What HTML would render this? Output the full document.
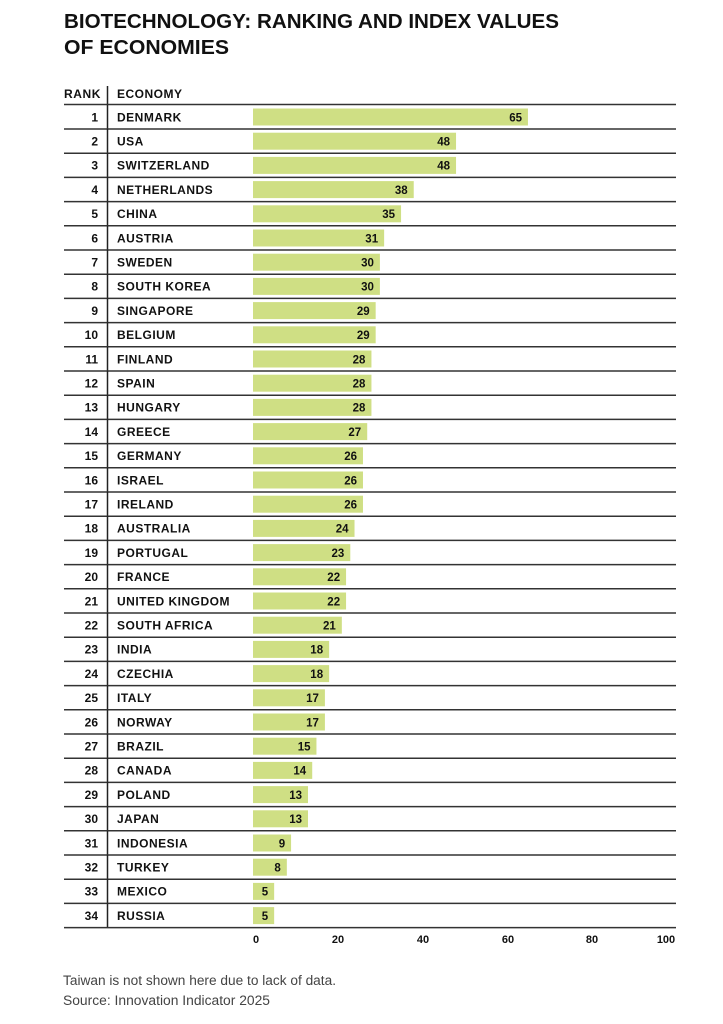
<!DOCTYPE html>
<html><head><meta charset="utf-8"><style>
html,body{margin:0;padding:0;background:#fff;}
svg{display:block;}
rect{fill:#cfdf84;}
.v{font-size:11.5px;font-weight:bold;fill:#111;text-anchor:end;}
.r{font-size:12px;font-weight:bold;fill:#111;text-anchor:end;}
.n{font-size:12px;font-weight:bold;fill:#111;letter-spacing:0.5px;}
.d{stroke:#222;stroke-width:1.5;}
.s{stroke:#333;stroke-width:1.5;}
</style></head><body>
<svg width="723" height="1024" xmlns="http://www.w3.org/2000/svg" font-family="Liberation Sans, sans-serif">
<text x="64" y="28" font-size="20" font-weight="bold" fill="#111" textLength="495" lengthAdjust="spacingAndGlyphs">BIOTECHNOLOGY: RANKING AND INDEX VALUES</text>
<text x="64" y="54" font-size="20" font-weight="bold" fill="#111" textLength="165" lengthAdjust="spacingAndGlyphs">OF ECONOMIES</text>
<text x="64" y="98" font-size="12" font-weight="bold" fill="#111" letter-spacing="0.6">RANK</text>
<text x="117" y="98" font-size="12" font-weight="bold" fill="#111" letter-spacing="0.5">ECONOMY</text>
<line class="d" x1="107.5" y1="86" x2="107.5" y2="104.5"/>
<line class="s" x1="64" y1="104.5" x2="676" y2="104.5"/>

<g transform="translate(0,129)"><rect x="253" y="-20.5" width="274.95" height="17"/><text class="v" x="522" y="-7.7">65</text><text class="r" x="98" y="-7.7">1</text><text class="n" x="117" y="-7.7">DENMARK</text><line class="d" x1="107.5" y1="-24.2" x2="107.5" y2="0"/><line class="s" x1="64" y1="0" x2="676" y2="0"/></g>
<g transform="translate(0,153.2)"><rect x="253" y="-20.5" width="203.04" height="17"/><text class="v" x="450" y="-7.7">48</text><text class="r" x="98" y="-7.7">2</text><text class="n" x="117" y="-7.7">USA</text><line class="d" x1="107.5" y1="-24.2" x2="107.5" y2="0"/><line class="s" x1="64" y1="0" x2="676" y2="0"/></g>
<g transform="translate(0,177.4)"><rect x="253" y="-20.5" width="203.04" height="17"/><text class="v" x="450" y="-7.7">48</text><text class="r" x="98" y="-7.7">3</text><text class="n" x="117" y="-7.7">SWITZERLAND</text><line class="d" x1="107.5" y1="-24.2" x2="107.5" y2="0"/><line class="s" x1="64" y1="0" x2="676" y2="0"/></g>
<g transform="translate(0,201.6)"><rect x="253" y="-20.5" width="160.74" height="17"/><text class="v" x="407.7" y="-7.7">38</text><text class="r" x="98" y="-7.7">4</text><text class="n" x="117" y="-7.7">NETHERLANDS</text><line class="d" x1="107.5" y1="-24.2" x2="107.5" y2="0"/><line class="s" x1="64" y1="0" x2="676" y2="0"/></g>
<g transform="translate(0,225.8)"><rect x="253" y="-20.5" width="148.05" height="17"/><text class="v" x="395" y="-7.7">35</text><text class="r" x="98" y="-7.7">5</text><text class="n" x="117" y="-7.7">CHINA</text><line class="d" x1="107.5" y1="-24.2" x2="107.5" y2="0"/><line class="s" x1="64" y1="0" x2="676" y2="0"/></g>
<g transform="translate(0,250)"><rect x="253" y="-20.5" width="131.13" height="17"/><text class="v" x="378.1" y="-7.7">31</text><text class="r" x="98" y="-7.7">6</text><text class="n" x="117" y="-7.7">AUSTRIA</text><line class="d" x1="107.5" y1="-24.2" x2="107.5" y2="0"/><line class="s" x1="64" y1="0" x2="676" y2="0"/></g>
<g transform="translate(0,274.2)"><rect x="253" y="-20.5" width="126.9" height="17"/><text class="v" x="373.9" y="-7.7">30</text><text class="r" x="98" y="-7.7">7</text><text class="n" x="117" y="-7.7">SWEDEN</text><line class="d" x1="107.5" y1="-24.2" x2="107.5" y2="0"/><line class="s" x1="64" y1="0" x2="676" y2="0"/></g>
<g transform="translate(0,298.4)"><rect x="253" y="-20.5" width="126.9" height="17"/><text class="v" x="373.9" y="-7.7">30</text><text class="r" x="98" y="-7.7">8</text><text class="n" x="117" y="-7.7">SOUTH KOREA</text><line class="d" x1="107.5" y1="-24.2" x2="107.5" y2="0"/><line class="s" x1="64" y1="0" x2="676" y2="0"/></g>
<g transform="translate(0,322.6)"><rect x="253" y="-20.5" width="122.67" height="17"/><text class="v" x="369.7" y="-7.7">29</text><text class="r" x="98" y="-7.7">9</text><text class="n" x="117" y="-7.7">SINGAPORE</text><line class="d" x1="107.5" y1="-24.2" x2="107.5" y2="0"/><line class="s" x1="64" y1="0" x2="676" y2="0"/></g>
<g transform="translate(0,346.8)"><rect x="253" y="-20.5" width="122.67" height="17"/><text class="v" x="369.7" y="-7.7">29</text><text class="r" x="98" y="-7.7">10</text><text class="n" x="117" y="-7.7">BELGIUM</text><line class="d" x1="107.5" y1="-24.2" x2="107.5" y2="0"/><line class="s" x1="64" y1="0" x2="676" y2="0"/></g>
<g transform="translate(0,371)"><rect x="253" y="-20.5" width="118.44" height="17"/><text class="v" x="365.4" y="-7.7">28</text><text class="r" x="98" y="-7.7">11</text><text class="n" x="117" y="-7.7">FINLAND</text><line class="d" x1="107.5" y1="-24.2" x2="107.5" y2="0"/><line class="s" x1="64" y1="0" x2="676" y2="0"/></g>
<g transform="translate(0,395.2)"><rect x="253" y="-20.5" width="118.44" height="17"/><text class="v" x="365.4" y="-7.7">28</text><text class="r" x="98" y="-7.7">12</text><text class="n" x="117" y="-7.7">SPAIN</text><line class="d" x1="107.5" y1="-24.2" x2="107.5" y2="0"/><line class="s" x1="64" y1="0" x2="676" y2="0"/></g>
<g transform="translate(0,419.4)"><rect x="253" y="-20.5" width="118.44" height="17"/><text class="v" x="365.4" y="-7.7">28</text><text class="r" x="98" y="-7.7">13</text><text class="n" x="117" y="-7.7">HUNGARY</text><line class="d" x1="107.5" y1="-24.2" x2="107.5" y2="0"/><line class="s" x1="64" y1="0" x2="676" y2="0"/></g>
<g transform="translate(0,443.6)"><rect x="253" y="-20.5" width="114.21" height="17"/><text class="v" x="361.2" y="-7.7">27</text><text class="r" x="98" y="-7.7">14</text><text class="n" x="117" y="-7.7">GREECE</text><line class="d" x1="107.5" y1="-24.2" x2="107.5" y2="0"/><line class="s" x1="64" y1="0" x2="676" y2="0"/></g>
<g transform="translate(0,467.8)"><rect x="253" y="-20.5" width="109.98" height="17"/><text class="v" x="357" y="-7.7">26</text><text class="r" x="98" y="-7.7">15</text><text class="n" x="117" y="-7.7">GERMANY</text><line class="d" x1="107.5" y1="-24.2" x2="107.5" y2="0"/><line class="s" x1="64" y1="0" x2="676" y2="0"/></g>
<g transform="translate(0,492)"><rect x="253" y="-20.5" width="109.98" height="17"/><text class="v" x="357" y="-7.7">26</text><text class="r" x="98" y="-7.7">16</text><text class="n" x="117" y="-7.7">ISRAEL</text><line class="d" x1="107.5" y1="-24.2" x2="107.5" y2="0"/><line class="s" x1="64" y1="0" x2="676" y2="0"/></g>
<g transform="translate(0,516.2)"><rect x="253" y="-20.5" width="109.98" height="17"/><text class="v" x="357" y="-7.7">26</text><text class="r" x="98" y="-7.7">17</text><text class="n" x="117" y="-7.7">IRELAND</text><line class="d" x1="107.5" y1="-24.2" x2="107.5" y2="0"/><line class="s" x1="64" y1="0" x2="676" y2="0"/></g>
<g transform="translate(0,540.4)"><rect x="253" y="-20.5" width="101.52" height="17"/><text class="v" x="348.5" y="-7.7">24</text><text class="r" x="98" y="-7.7">18</text><text class="n" x="117" y="-7.7">AUSTRALIA</text><line class="d" x1="107.5" y1="-24.2" x2="107.5" y2="0"/><line class="s" x1="64" y1="0" x2="676" y2="0"/></g>
<g transform="translate(0,564.6)"><rect x="253" y="-20.5" width="97.29" height="17"/><text class="v" x="344.3" y="-7.7">23</text><text class="r" x="98" y="-7.7">19</text><text class="n" x="117" y="-7.7">PORTUGAL</text><line class="d" x1="107.5" y1="-24.2" x2="107.5" y2="0"/><line class="s" x1="64" y1="0" x2="676" y2="0"/></g>
<g transform="translate(0,588.8)"><rect x="253" y="-20.5" width="93.06" height="17"/><text class="v" x="340.1" y="-7.7">22</text><text class="r" x="98" y="-7.7">20</text><text class="n" x="117" y="-7.7">FRANCE</text><line class="d" x1="107.5" y1="-24.2" x2="107.5" y2="0"/><line class="s" x1="64" y1="0" x2="676" y2="0"/></g>
<g transform="translate(0,613)"><rect x="253" y="-20.5" width="93.06" height="17"/><text class="v" x="340.1" y="-7.7">22</text><text class="r" x="98" y="-7.7">21</text><text class="n" x="117" y="-7.7">UNITED KINGDOM</text><line class="d" x1="107.5" y1="-24.2" x2="107.5" y2="0"/><line class="s" x1="64" y1="0" x2="676" y2="0"/></g>
<g transform="translate(0,637.2)"><rect x="253" y="-20.5" width="88.83" height="17"/><text class="v" x="335.8" y="-7.7">21</text><text class="r" x="98" y="-7.7">22</text><text class="n" x="117" y="-7.7">SOUTH AFRICA</text><line class="d" x1="107.5" y1="-24.2" x2="107.5" y2="0"/><line class="s" x1="64" y1="0" x2="676" y2="0"/></g>
<g transform="translate(0,661.4)"><rect x="253" y="-20.5" width="76.14" height="17"/><text class="v" x="323.1" y="-7.7">18</text><text class="r" x="98" y="-7.7">23</text><text class="n" x="117" y="-7.7">INDIA</text><line class="d" x1="107.5" y1="-24.2" x2="107.5" y2="0"/><line class="s" x1="64" y1="0" x2="676" y2="0"/></g>
<g transform="translate(0,685.6)"><rect x="253" y="-20.5" width="76.14" height="17"/><text class="v" x="323.1" y="-7.7">18</text><text class="r" x="98" y="-7.7">24</text><text class="n" x="117" y="-7.7">CZECHIA</text><line class="d" x1="107.5" y1="-24.2" x2="107.5" y2="0"/><line class="s" x1="64" y1="0" x2="676" y2="0"/></g>
<g transform="translate(0,709.8)"><rect x="253" y="-20.5" width="71.91" height="17"/><text class="v" x="318.9" y="-7.7">17</text><text class="r" x="98" y="-7.7">25</text><text class="n" x="117" y="-7.7">ITALY</text><line class="d" x1="107.5" y1="-24.2" x2="107.5" y2="0"/><line class="s" x1="64" y1="0" x2="676" y2="0"/></g>
<g transform="translate(0,734)"><rect x="253" y="-20.5" width="71.91" height="17"/><text class="v" x="318.9" y="-7.7">17</text><text class="r" x="98" y="-7.7">26</text><text class="n" x="117" y="-7.7">NORWAY</text><line class="d" x1="107.5" y1="-24.2" x2="107.5" y2="0"/><line class="s" x1="64" y1="0" x2="676" y2="0"/></g>
<g transform="translate(0,758.2)"><rect x="253" y="-20.5" width="63.45" height="17"/><text class="v" x="310.5" y="-7.7">15</text><text class="r" x="98" y="-7.7">27</text><text class="n" x="117" y="-7.7">BRAZIL</text><line class="d" x1="107.5" y1="-24.2" x2="107.5" y2="0"/><line class="s" x1="64" y1="0" x2="676" y2="0"/></g>
<g transform="translate(0,782.4)"><rect x="253" y="-20.5" width="59.22" height="17"/><text class="v" x="306.2" y="-7.7">14</text><text class="r" x="98" y="-7.7">28</text><text class="n" x="117" y="-7.7">CANADA</text><line class="d" x1="107.5" y1="-24.2" x2="107.5" y2="0"/><line class="s" x1="64" y1="0" x2="676" y2="0"/></g>
<g transform="translate(0,806.6)"><rect x="253" y="-20.5" width="54.99" height="17"/><text class="v" x="302" y="-7.7">13</text><text class="r" x="98" y="-7.7">29</text><text class="n" x="117" y="-7.7">POLAND</text><line class="d" x1="107.5" y1="-24.2" x2="107.5" y2="0"/><line class="s" x1="64" y1="0" x2="676" y2="0"/></g>
<g transform="translate(0,830.8)"><rect x="253" y="-20.5" width="54.99" height="17"/><text class="v" x="302" y="-7.7">13</text><text class="r" x="98" y="-7.7">30</text><text class="n" x="117" y="-7.7">JAPAN</text><line class="d" x1="107.5" y1="-24.2" x2="107.5" y2="0"/><line class="s" x1="64" y1="0" x2="676" y2="0"/></g>
<g transform="translate(0,855)"><rect x="253" y="-20.5" width="38.07" height="17"/><text class="v" x="285.1" y="-7.7">9</text><text class="r" x="98" y="-7.7">31</text><text class="n" x="117" y="-7.7">INDONESIA</text><line class="d" x1="107.5" y1="-24.2" x2="107.5" y2="0"/><line class="s" x1="64" y1="0" x2="676" y2="0"/></g>
<g transform="translate(0,879.2)"><rect x="253" y="-20.5" width="33.84" height="17"/><text class="v" x="280.8" y="-7.7">8</text><text class="r" x="98" y="-7.7">32</text><text class="n" x="117" y="-7.7">TURKEY</text><line class="d" x1="107.5" y1="-24.2" x2="107.5" y2="0"/><line class="s" x1="64" y1="0" x2="676" y2="0"/></g>
<g transform="translate(0,903.4)"><rect x="253" y="-20.5" width="21.15" height="17"/><text class="v" x="268.2" y="-7.7">5</text><text class="r" x="98" y="-7.7">33</text><text class="n" x="117" y="-7.7">MEXICO</text><line class="d" x1="107.5" y1="-24.2" x2="107.5" y2="0"/><line class="s" x1="64" y1="0" x2="676" y2="0"/></g>
<g transform="translate(0,927.6)"><rect x="253" y="-20.5" width="21.15" height="17"/><text class="v" x="268.2" y="-7.7">5</text><text class="r" x="98" y="-7.7">34</text><text class="n" x="117" y="-7.7">RUSSIA</text><line class="d" x1="107.5" y1="-24.2" x2="107.5" y2="0"/><line class="s" x1="64" y1="0" x2="676" y2="0"/></g>

<g font-size="11" font-weight="bold" fill="#111" text-anchor="middle">
<text x="256" y="943">0</text><text x="338" y="943">20</text><text x="423" y="943">40</text>
<text x="508" y="943">60</text><text x="592" y="943">80</text><text x="666" y="943">100</text>
</g>
<text x="63" y="985" font-size="13.5" fill="#444" textLength="273" lengthAdjust="spacingAndGlyphs">Taiwan is not shown here due to lack of data.</text>
<text x="63" y="1005" font-size="13.5" fill="#444" textLength="207" lengthAdjust="spacingAndGlyphs">Source: Innovation Indicator 2025</text>
</svg>
</body></html>
